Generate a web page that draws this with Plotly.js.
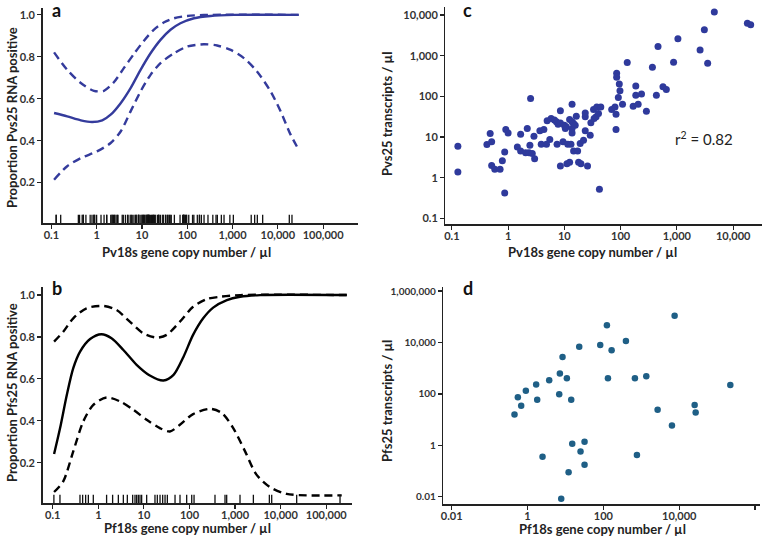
<!DOCTYPE html>
<html>
<head>
<meta charset="utf-8">
<script src="https://cdn.plot.ly/plotly-3.0.1.min.js"></script>
<style>html,body{margin:0;padding:0;background:#fff;}#chart{width:778px;height:539px;}</style>
</head>
<body>
<div id="chart"></div>
<script>
// ---------- Panel a: Pv18s vs proportion Pvs25 positive ----------
const aFitX   = [0.115,0.224,0.447,0.794,1.33,2.04,3.39,5.62,9.33,15.5,25.7,42.7,70.8,141,324,1070,28800];
const aFitY   = [0.532,0.516,0.497,0.489,0.497,0.524,0.579,0.651,0.738,0.817,0.881,0.929,0.960,0.984,0.995,1.0,1.0];
const aUpX    = [0.115,0.224,0.447,0.871,1.45,2.40,3.98,6.61,11.0,18.2,30.9,51.3,100,316,28800];
const aUpY    = [0.821,0.738,0.675,0.638,0.638,0.679,0.746,0.813,0.876,0.929,0.965,0.984,0.995,1.0,1.0];
const aLoX    = [0.115,0.224,0.447,1.02,2.04,3.39,5.62,9.33,15.5,25.7,51.3,100,234,457,912,1780,3470,6920,11500,19100,28800];
const aLoY    = [0.214,0.278,0.317,0.349,0.389,0.444,0.540,0.635,0.714,0.770,0.817,0.849,0.860,0.854,0.833,0.794,0.730,0.635,0.540,0.429,0.357];

// ---------- Panel b: Pf18s vs proportion Pfs25 positive ----------
const bFitX   = [0.107,0.145,0.204,0.282,0.398,0.661,1.17,1.95,3.55,6.92,13.5,26.9,44.7,74.1,120,200,331,661,1290,3550,282000];
const bFitY   = [0.241,0.365,0.524,0.651,0.730,0.790,0.813,0.794,0.738,0.667,0.616,0.592,0.619,0.706,0.810,0.889,0.940,0.976,0.992,1.0,1.0];
const bUpX    = [0.107,0.170,0.282,0.550,1.29,2.51,4.90,9.77,19.1,31.6,61.7,120,240,468,1290,282000];
const bUpY    = [0.778,0.825,0.889,0.937,0.948,0.929,0.873,0.817,0.797,0.810,0.873,0.944,0.981,0.992,1.0,1.0];
const bLoX    = [0.107,0.170,0.282,0.468,0.776,1.51,3.02,5.89,11.5,22.4,37.2,61.7,120,282,513,912,1660,2950,5890,13500,37200,219000];
const bLoY    = [0.060,0.111,0.254,0.397,0.476,0.511,0.492,0.452,0.405,0.365,0.349,0.381,0.432,0.457,0.437,0.365,0.254,0.143,0.083,0.051,0.044,0.044];
const bRugX   = [0.106,0.144,0.396,0.453,0.527,0.604,0.776,1.52,2.06,2.75,3.54,4.33,5.67,6.38,6.94,7.55,8.21,8.93,11.5,17.5,19.7,22.6,25.8,29.1,32.7,48.2,62,86.8,112,126,363,602,655,1285,2523,5660,6370,22500,201000];

// ---------- Panel c: Pv18s vs Pvs25 transcripts ----------
const cX = [0.128,0.128,0.42,0.48,0.51,0.51,0.58,0.72,0.79,0.87,0.87,0.91,1.0,1.46,1.67,1.67,2.05,2.19,2.35,2.44,2.51,2.69,2.88,2.96,3.67,3.88,4.32,4.81,4.94,5.51,5.82,6.66,7.22,7.73,8.5,8.5,8.5,7.42,9.47,10,10.4,10.8,11.5,11.1,12.4,12.4,13.1,13.7,13.7,13.7,13.7,14.6,15.6,14.6,16.3,17.2,17.9,19.7,19.1,21.9,23.5,23.5,23.5,25.8,28.8,29.6,33,33.8,36.7,37.7,40.4,42,44.4,69.4,79.4,82.8,82.8,85,85,91,94.7,97.3,108,131,167,186,186,205,235,287,367,432,462,566,649,873,1042,2583,3078,3524,4624,17900,20500];
const cY = [5.9,1.38,6.5,12.2,7.6,2.0,1.6,1.6,2.6,4.3,0.42,15.3,12.6,5.7,11.7,4.5,4.1,16.2,4.1,6.3,89,3.9,10.5,2.9,14.2,6.6,15.3,6.6,25,8.7,28.6,26,23.6,20.7,44,22,1.94,6.6,7.6,19.5,16.2,17.8,6.6,2.2,2.4,27,6.6,23.6,64,16.2,12.6,21.5,19.5,4.5,32.6,4.5,2.4,2.2,6.9,8.3,14.2,31.4,39,1.94,11.1,22.3,47.6,28.6,31.4,55,38,0.52,55,47.6,55,36.5,15.3,368,293,94,201,137,64,675,57,179,107,64,114,43,518,107,1673,173,148,687,2590,1385,4318,649,11780,6300,5730];
const pvNegX = [0.161,0.395,1.25,2.2,6.1,18,52,140];
const rSquared = 0.82;

// ---------- Panel d: Pf18s vs Pfs25 transcripts ----------
const dX = [0.454,0.556,0.681,0.904,1.69,1.80,2.49,3.73,6.85,7.13,8.38,7.73,12.1,10.9,14.2,15.1,23.1,25,31.9,31.9,82.6,124,132,165,393,679,767,1353,2692,6430,7560,25500,27100,222000];
const dY = [15.9,73.6,34.7,134,231,59.6,0.36,341,96.4,622,2713,0.0084,0.090,408,59.6,1.16,6890,0.58,1.39,0.175,8000,47200,408,4950,11500,408,0.42,489,24.2,5.9,109000,36.9,19.0,224];

// ---------- tick labels ----------
const copyTickVals  = [0.1,1,10,100,1000,10000,100000];
const copyTickText  = ['0.1','1','10','100','1,000','10,000','100,000'];
const propTickVals  = [0.2,0.4,0.6,0.8,1.0];
const propTickText  = ['0.2','0.4','0.6','0.8','1.0'];
const cXTickVals    = [0.1,1,10,100,1000,10000];
const cXTickText    = ['0.1','1','10','100','1,000','10,000'];
const cYTickVals    = [0.1,1,10,100,1000,10000];
const cYTickText    = ['0.1','1','10','100','1,000','10,000'];
const dTickVals     = [0.01,1,100,10000,1000000];
const dTickText     = ['0.01','1','100','10,000','1,000,000'];

// ---------- styles ----------
const BLUE = '#343b9c';
const SCAT_C = '#2f3a9c';
const SCAT_D = '#1f5f86';
const rugLevel = 0.023;
const FONT = 'Lato, "Open Sans", sans-serif';
const tickFont = {family: FONT, size: 11, color: '#333', weight: 700};
const smallTickFont = {family: FONT, size: 10, color: '#333', weight: 700};
const titleFont = {family: FONT, size: 13, color: '#222', weight: 700};
const panelFont = {family: FONT, size: 18, color: '#111', weight: 700};
const dashPat = '8px,5px';

function ax(extra) {
  return Object.assign({
    showline: true, linecolor: '#222', linewidth: 1.5,
    ticks: 'outside', ticklen: 4, tickwidth: 1.2, tickcolor: '#222',
    showgrid: false, zeroline: false, tickfont: tickFont, fixedrange: true
  }, extra);
}
function xax(extra) {
  return ax(Object.assign({ticklabelstandoff: -3}, extra));
}
function line(x, y, xa, ya, color, dash) {
  return {x: x, y: y, xaxis: xa, yaxis: ya, type: 'scatter', mode: 'lines',
    line: {color: color, width: 2.4, dash: dash || 'solid', shape: 'spline', smoothing: 0.8},
    hoverinfo: 'skip'};
}
function rug(x, xa, ya) {
  return {x: x, y: x.map(() => rugLevel), xaxis: xa, yaxis: ya, type: 'scatter', mode: 'markers',
    marker: {symbol: 'line-ns', size: 7, line: {width: 1.3, color: '#111'}}, hoverinfo: 'skip'};
}

const rugAX = cX.concat(pvNegX);

const data = [
  line(aFitX, aFitY, 'x', 'y', BLUE),
  line(aUpX, aUpY, 'x', 'y', BLUE, dashPat),
  line(aLoX, aLoY, 'x', 'y', BLUE, dashPat),
  rug(rugAX, 'x', 'y'),
  line(bFitX, bFitY, 'x2', 'y2', '#000'),
  line(bUpX, bUpY, 'x2', 'y2', '#000', dashPat),
  line(bLoX, bLoY, 'x2', 'y2', '#000', dashPat),
  rug(bRugX, 'x2', 'y2'),
  {x: cX, y: cY, xaxis: 'x3', yaxis: 'y3', type: 'scatter', mode: 'markers',
   marker: {color: SCAT_C, size: 7}},
  {x: dX, y: dY, xaxis: 'x4', yaxis: 'y4', type: 'scatter', mode: 'markers',
   marker: {color: SCAT_D, size: 6.5}}
];

function ann(text, px, py, font, extra) {
  return Object.assign({text: text, xref: 'paper', yref: 'paper', x: px / 778, y: 1 - py / 539,
    xanchor: 'center', yanchor: 'middle', showarrow: false, font: font}, extra || {});
}

const layout = {
  width: 778, height: 539,
  margin: {l: 0, r: 0, t: 0, b: 0},
  paper_bgcolor: '#fff', plot_bgcolor: '#fff',
  showlegend: false,
  xaxis:  xax({domain: [0.0549, 0.4602], anchor: 'y',  type: 'log', range: [-1.19, 5.77], tickvals: copyTickVals, ticktext: copyTickText}),
  yaxis:  ax({domain: [0.5857, 0.9852], anchor: 'x',  range: [0.006, 1.033], tickvals: propTickVals, ticktext: propTickText}),
  xaxis2: xax({domain: [0.0549, 0.4521], anchor: 'y2', type: 'log', range: [-1.22, 5.56], tickvals: copyTickVals, ticktext: copyTickText}),
  yaxis2: ax({domain: [0.0662, 0.4681], anchor: 'x2', range: [0.006, 1.04], tickvals: propTickVals, ticktext: propTickText}),
  xaxis3: xax({domain: [0.5726, 0.9791], anchor: 'y3', type: 'log', range: [-1.113, 4.508], tickvals: cXTickVals, ticktext: cXTickText}),
  yaxis3: ax({domain: [0.5844, 0.9865], anchor: 'x3', type: 'log', range: [-1.14, 4.19], tickvals: cYTickVals, ticktext: cYTickText}),
  xaxis4: xax({domain: [0.5698, 0.9769], anchor: 'y4', type: 'log', range: [-2.22, 6.13], tickvals: dTickVals, ticktext: dTickText}),
  yaxis4: ax({domain: [0.0649, 0.4681], anchor: 'x4', type: 'log', range: [-2.28, 6.17], tickvals: dTickVals, ticktext: dTickText, tickfont: smallTickFont}),
  annotations: [
    ann('Pv18s gene copy number / µl', 186, 252, titleFont),
    ann('Proportion Pvs25 RNA positive', 12, 118, titleFont, {textangle: -90}),
    ann('Pf18s gene copy number / µl', 187, 528, titleFont),
    ann('Proportion Pfs25 RNA positive', 12, 393, titleFont, {textangle: -90}),
    ann('Pv18s gene copy number / µl', 592.5, 252, titleFont),
    ann('Pvs25 transcripts / µl', 387, 114, titleFont, {textangle: -90}),
    ann('Pf18s gene copy number / µl', 602.5, 529, titleFont),
    ann('Pfs25 transcripts / µl', 387, 401, titleFont, {textangle: -90}),
    ann('a', 56, 10, panelFont),
    ann('b', 57, 288, panelFont),
    ann('c', 467, 10, panelFont),
    ann('d', 468, 288, panelFont),
    ann('r<sup>2</sup> = ' + rSquared.toFixed(2), 703.5, 139, {family: FONT, size: 15, color: '#222'})
  ]
};

Plotly.newPlot('chart', data, layout, {staticPlot: true, displayModeBar: false});
</script>
</body>
</html>
